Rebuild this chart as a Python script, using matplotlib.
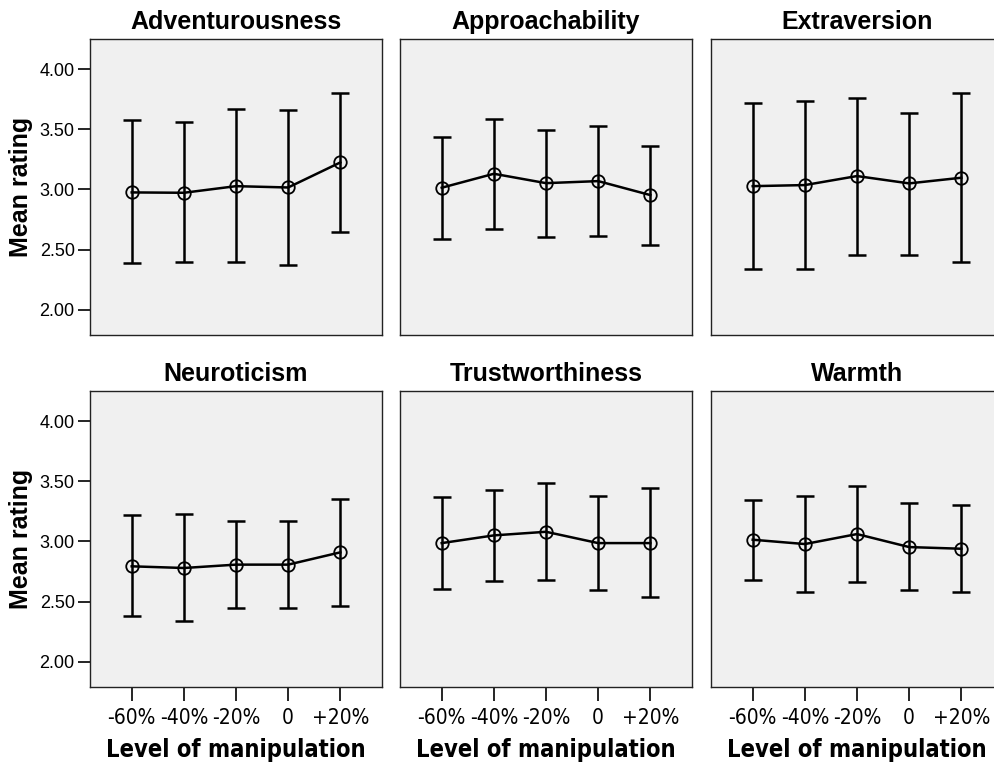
import matplotlib
matplotlib.use("Agg")
import matplotlib.pyplot as plt

# Data
levels = ["-60%", "-40%", "-20%", "0", "+20%"]
traits = ["Adventurousness", "Approachability", "Extraversion",
          "Neuroticism", "Trustworthiness", "Warmth"]

adv_mean = [2.975, 2.972, 3.027, 3.016, 3.224]
adv_low = [2.385, 2.396, 2.396, 2.374, 2.645]
adv_high = [3.576, 3.557, 3.667, 3.662, 3.798]

app_mean = [3.014, 3.130, 3.052, 3.069, 2.953]
app_low = [2.587, 2.670, 2.601, 2.609, 2.540]
app_high = [3.435, 3.587, 3.493, 3.524, 3.360]

ext_mean = [3.027, 3.036, 3.111, 3.050, 3.097]
ext_low = [2.335, 2.335, 2.457, 2.457, 2.398]
ext_high = [3.720, 3.737, 3.756, 3.632, 3.803]

neu_mean = [2.793, 2.779, 2.807, 2.807, 2.909]
neu_low = [2.378, 2.337, 2.448, 2.448, 2.464]
neu_high = [3.221, 3.227, 3.171, 3.171, 3.356]

tru_mean = [2.986, 3.050, 3.080, 2.986, 2.986]
tru_low = [2.605, 2.669, 2.677, 2.597, 2.536]
tru_high = [3.370, 3.431, 3.486, 3.378, 3.448]

war_mean = [3.014, 2.978, 3.061, 2.953, 2.939]
war_low = [2.680, 2.580, 2.663, 2.597, 2.580]
war_high = [3.345, 3.376, 3.461, 3.323, 3.304]

means = [adv_mean, app_mean, ext_mean, neu_mean, tru_mean, war_mean]
lows = [adv_low, app_low, ext_low, neu_low, tru_low, war_low]
highs = [adv_high, app_high, ext_high, neu_high, tru_high, war_high]

yticks = [2.0, 2.5, 3.0, 3.5, 4.0]

W, H = 995, 764
fig = plt.figure(figsize=(W / 100, H / 100), dpi=100)

col_left = [90, 400, 711]
row_top = [39, 391]
aw, ah = 292, 296

bold_font = ["Liberation Sans", "DejaVu Sans"]
narrow_font = ["DejaVu Sans"]

for i, trait in enumerate(traits):
    r, c = divmod(i, 3)
    left = col_left[c]
    top = row_top[r]
    ax = fig.add_axes([left / W, 1 - (top + ah) / H, aw / W, ah / H])
    ax.set_facecolor("#f0f0f0")
    for sp in ax.spines.values():
        sp.set_color("#222222")
        sp.set_linewidth(1.0)

    x = list(range(len(levels)))
    m = means[i]
    err_lo = [mm - lo for mm, lo in zip(m, lows[i])]
    err_hi = [hi - mm for mm, hi in zip(m, highs[i])]
    ax.errorbar(x, m, yerr=[err_lo, err_hi], fmt="none", ecolor="black",
                elinewidth=1.8, capsize=6.5, capthick=1.8, zorder=2)
    ax.plot(x, m, color="black", linewidth=1.8, marker="o", markersize=9,
            markerfacecolor="none", markeredgecolor="black",
            markeredgewidth=1.3, zorder=3)

    ax.set_xlim(-0.8, 4.8)
    ax.set_ylim(1.79, 4.25)
    ax.set_title(trait, fontsize=18, fontweight="bold", family=bold_font, pad=7)

    if c == 0:
        ax.set_yticks(yticks)
        ax.set_yticklabels(["%.2f" % v for v in yticks], fontsize=13,
                           family=bold_font)
        ax.tick_params(axis="y", length=9, width=1.2, pad=2)
        ax.set_ylabel("Mean rating", fontsize=18, fontweight="bold",
                      family=bold_font)
        ax.yaxis.set_label_coords(-(90 - 33) / aw, 0.5)
    else:
        ax.set_yticks([])

    if r == 1:
        ax.set_xticks(x)
        ax.set_xticklabels(levels, fontsize=15, family=narrow_font,
                           fontstretch="condensed")
        ax.tick_params(axis="x", length=10, width=1.2, pad=5)
        ax.set_xlabel("Level of manipulation", fontsize=17, fontweight="bold",
                      family=narrow_font, fontstretch="condensed", va="center")
        ax.xaxis.set_label_coords(0.5, -(750 - 687) / ah)
    else:
        ax.set_xticks([])

fig.savefig("out.png", dpi=100)
